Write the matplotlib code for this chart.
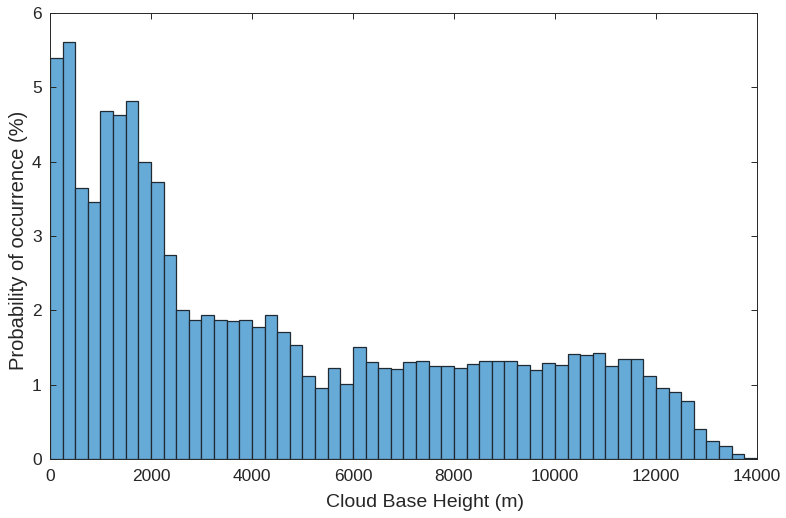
import numpy as np
import matplotlib.pyplot as plt

plt.rcParams['font.family'] = ['Liberation Sans', 'DejaVu Sans']

# cloud base height histogram, 250 m bins from 0 to 14000 m
bin_width = 250
bin_start = 0
prob = [5.40, 5.61, 3.65, 3.45, 4.68, 4.63, 4.82, 3.99, 3.72, 2.75,
        2.00, 1.87, 1.94, 1.87, 1.86, 1.87, 1.78, 1.93, 1.71, 1.53,
        1.11, 0.96, 1.22, 1.01, 1.51, 1.31, 1.23, 1.21, 1.30, 1.32,
        1.25, 1.25, 1.22, 1.28, 1.32, 1.32, 1.32, 1.27, 1.19, 1.29,
        1.27, 1.41, 1.40, 1.42, 1.25, 1.35, 1.35, 1.11, 0.96, 0.90,
        0.78, 0.40, 0.24, 0.17, 0.06, 0.01]

xticks = [0, 2000, 4000, 6000, 8000, 10000, 12000, 14000]
yticks = [0, 1, 2, 3, 4, 5, 6]

edges = bin_start + bin_width * np.arange(len(prob) + 1)

fig = plt.figure(figsize=(7.86, 5.18), dpi=100)
ax = fig.add_axes([0.0636, 0.114, 0.8995, 0.861])

ax.bar(edges[:-1], prob, width=bin_width, align='edge',
       color='#66aad7', edgecolor='#1f2a33', linewidth=0.9)

ax.set_xlim(0, 14000)
ax.set_ylim(0, 6)
ax.set_xticks(xticks)
ax.set_yticks(yticks)

axis_col = '#262626'
for s in ax.spines.values():
    s.set_color(axis_col)
    s.set_linewidth(0.7)
ax.tick_params(direction='in', top=True, right=True, length=4,
               width=0.7, color=axis_col, labelcolor=axis_col,
               labelsize=12.5)
ax.tick_params(axis='x', pad=7)
ax.tick_params(axis='y', pad=6)

ax.set_xlabel('Cloud Base Height (m)', fontsize=14, color=axis_col)
ax.set_ylabel('Probability of occurrence (%)', fontsize=14.5, color=axis_col)
ax.xaxis.set_label_coords(0.530, -0.078)
ax.yaxis.set_label_coords(-0.031, 0.491)

fig.savefig('out.png', dpi=100)
